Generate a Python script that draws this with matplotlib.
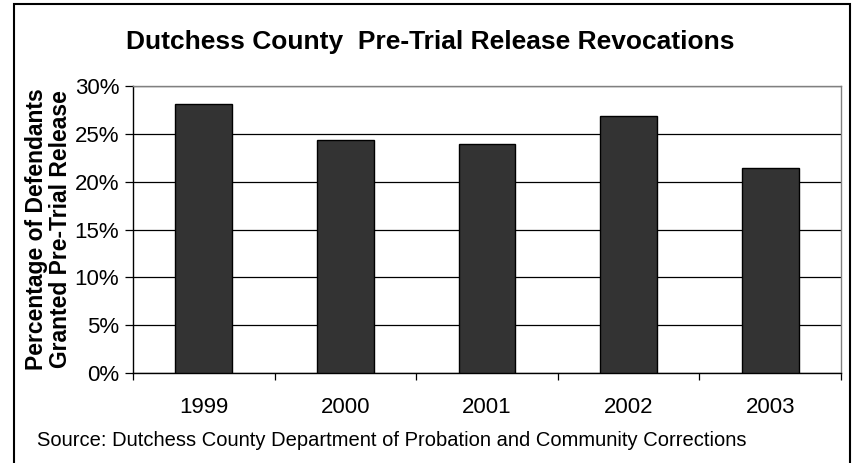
import numpy as np
import matplotlib
matplotlib.use("Agg")
import matplotlib.pyplot as plt
from matplotlib.patches import Rectangle
from matplotlib.ticker import FixedLocator

years = ['1999', '2000', '2001', '2002', '2003']
revocations = [28.1, 24.4, 23.9, 26.9, 21.4]
yticks = [0, 5, 10, 15, 20, 25, 30]

plt.rcParams['font.family'] = ['Liberation Sans', 'DejaVu Sans']

fig = plt.figure(figsize=(8.58, 4.63), dpi=100)
ax = fig.add_axes([133 / 858, 1 - 373 / 463, (841 - 133) / 858, (373 - 86) / 463])

x = np.arange(len(years))
ax.bar(x, revocations, width=0.4, color='#333333', edgecolor='black', linewidth=1, zorder=3)

ax.set_xlim(-0.5, len(years) - 0.5)
ax.set_ylim(0, 30)
ax.set_yticks(yticks)
ax.set_yticklabels([f'{v}%' for v in yticks], fontsize=16)
ax.yaxis.grid(True, color='black', linewidth=0.9, zorder=0)
ax.set_xticks(x)
ax.set_xticklabels(years, fontsize=16)
ax.tick_params(axis='x', which='major', length=0, pad=17)
ax.xaxis.set_minor_locator(FixedLocator(np.arange(-0.5, len(years), 1.0)))
ax.tick_params(axis='x', which='minor', length=5, width=0.9, direction='out')
ax.tick_params(axis='y', length=6, width=0.9, direction='out', pad=4)

for side in ['left', 'bottom']:
    ax.spines[side].set_color('black')
    ax.spines[side].set_linewidth(1)
for side in ['top', 'right']:
    ax.spines[side].set_color('#808080')
    ax.spines[side].set_linewidth(1)

ax.set_ylabel('Percentage of Defendants\nGranted Pre-Trial Release', fontsize=16.5,
              fontweight='bold', linespacing=1.05, labelpad=2)

fig.text(430 / 858, 1 - 42 / 463, 'Dutchess County  Pre-Trial Release Revocations',
         ha='center', va='center', fontsize=19, fontweight='bold')
fig.text(37 / 858, 1 - 440 / 463,
         'Source: Dutchess County Department of Probation and Community Corrections',
         ha='left', va='center', fontsize=14.5)

fig.patches.append(Rectangle((14 / 858, -0.1), (850 - 14) / 858, 1.1 - 4 / 463,
                             transform=fig.transFigure, fill=False,
                             edgecolor='black', linewidth=1.5))

fig.savefig('out.png', dpi=100)
